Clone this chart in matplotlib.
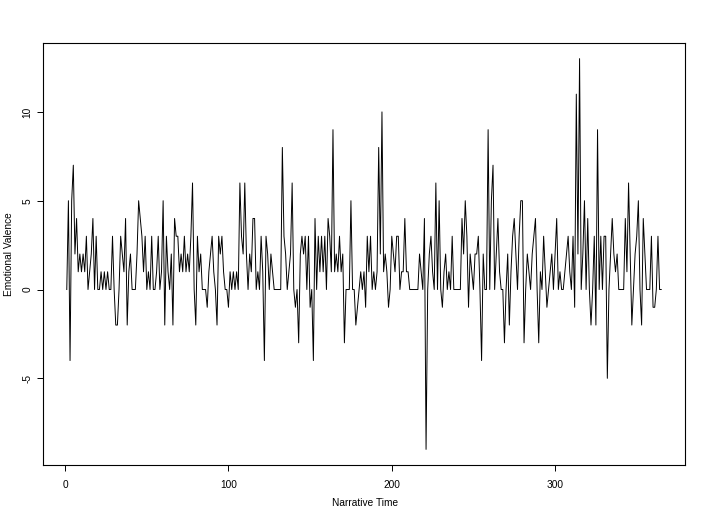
import matplotlib
matplotlib.use("Agg")
import matplotlib.pyplot as plt
import numpy as np

plt.rcParams['font.family'] = ['Liberation Sans', 'DejaVu Sans']

# Emotional valence per narrative time step (t = 1..365)
seg_a = [0, 5, -4, 5, 7, 2, 4, 1, 2, 1, 2, 1, 3, 0, 1, 2, 4, 0, 3, 0,
         0, 1, 0, 1, 0, 1, 0, 0, 3, 0]
seg_b = [-2, -2, 0, 3, 2, 1, 4, -2, 1, 2, 0, 0, 0, 2, 5, 4, 3, 1, 3, 0,
         1, 0, 3, 0, 0, 1, 3, 0, 1, 5, -2, 3, 1, 0]
seg_c = [2, -2, 4, 3, 3, 1, 2, 1, 3, 1, 2, 1, 3, 6, 0, -2, 3, 1, 2, 0,
         0, 0, -1, 1, 2, 3, 1, 0, -2, 3, 2, 3, 1]
seg_d = [0, 0, -1, 1, 0, 1, 0, 1, 0, 6, 3, 2, 6, 2, 0, 2, 1, 4, 4, 0,
         1, 0, 3, 1, -4, 3, 2, 0, 2, 1, 0, 0]
seg_e = [0, 0, 0, 8, 3, 2, 0, 1, 2, 6, 0, -1, 0, -3, 2, 3, 2, 3, 0, 3,
         -1, 0, -4, 4, 0, 3, 1, 3, 1, 3, 0, 4, 3, 1]
seg_f = [9, 1, 2, 1, 3, 1, 2, -3, 0, 0, 0, 5, 0, 0, -2, -1, 0, 1, 0, 1,
         -1, 3, 1, 3, 0, 1, 0, 1, 8, 2, 10, 1, 2]
seg_g = [1, -1, 0, 3, 2, 1, 3, 3, 0, 1, 1, 4, 1, 1, 0, 0, 0, 0, 0, 0,
         2, 1, 0, 4, -9, 0, 2, 3, 1, 0, 6, 0, 5]
seg_h = [0, -1, 1, 2, 0, 1, 0, 3, 0, 0, 0, 0, 0, 4, 2, 5, 3, -1, 2, 1,
         0, 2, 2, 3, 0, -4, 2, 0, 0, 9, 0, 5, 7]
seg_i = [0, 2, 4, 1, 0, 0, -3, 0, 2, -2, 1, 3, 4, 2, 0, 3, 5, 5, -3, 0,
         2, 1, 0, 2, 3, 4, 0, -3, 1, 0, 3, 1, -1]
seg_j = [0, 1, 2, 0, 2, 4, 0, 1, 0, 0, 1, 2, 3, 1, 0, 3, -1, 11, 2, 13,
         0, 2, 5, 0, 4, 0, -2, 0, 3, -2, 9, 0]
seg_k = [3, 0, 3, 3, -5, 0, 2, 4, 2, 1, 2, 0, 0, 0, 0, 4, 1, 6, 2, -2,
         0, 2, 3, 5, 0, -2, 4, 2, 0, 0, 0, 3, -1, -1, 0, 3, 0, 0]

valence = (seg_a + seg_b + seg_c + seg_d + seg_e + seg_f + seg_g + seg_h
           + seg_i + seg_j + seg_k)
time = list(range(1, len(valence) + 1))

x_ticks = [0, 100, 200, 300]
y_ticks = [-5, 0, 5, 10]

W, H = 707, 519
fig = plt.figure(figsize=(W / 100, H / 100), dpi=100)
ax = fig.add_axes([43 / W, 1 - 465 / H, (685 - 43) / W, (465 - 43) / H])

ax.plot(time, valence, color='black', linewidth=0.7)

xr = max(time) - min(time)
ax.set_xlim(min(time) - 0.04 * xr, max(time) + 0.04 * xr)
yr = max(valence) - min(valence)
ax.set_ylim(min(valence) - 0.04 * yr, max(valence) + 0.04 * yr)

ax.set_xticks(x_ticks)
ax.set_yticks(y_ticks)
ax.set_xticklabels([str(t) for t in x_ticks], fontsize=7.3)
ax.set_yticklabels([str(t) for t in y_ticks], fontsize=7.3, rotation=90, va='center')
ax.tick_params(direction='out', length=4.5, width=0.7, pad=6, colors='black')
ax.tick_params(axis='y', pad=3)
for s in ax.spines.values():
    s.set_linewidth(0.8)
    s.set_color('black')

fig.text(365 / W, 1 - 503 / H, 'Narrative Time', ha='center', va='center', fontsize=7.3)
fig.text(9 / W, 1 - 254 / H, 'Emotional Valence', ha='center', va='center',
         rotation=90, fontsize=7.3)

fig.savefig('out.png', dpi=100)
